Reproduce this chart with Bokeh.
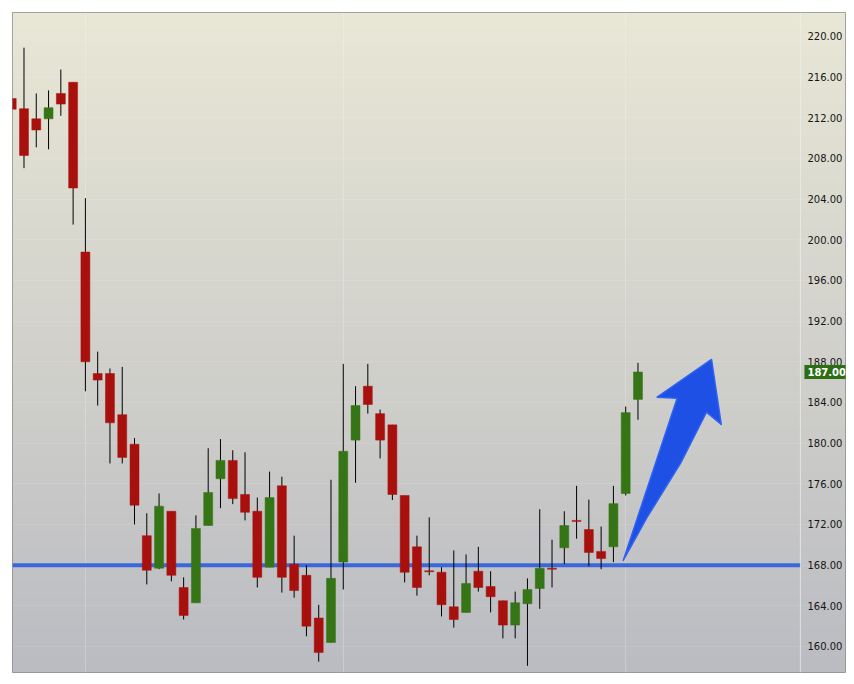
import numpy as np
from bokeh.plotting import figure
from bokeh.models import (ColumnDataSource, Range1d, LinearAxis, SingleIntervalTicker,
                          PrintfTickFormatter, FixedTicker, Grid, Span, Label)
from bokeh.embed import file_html
from bokeh.resources import INLINE

# ---------------- data ----------------
index = list(range(52))
opens = [213.9, 212.9, 211.9, 211.9, 214.4, 215.5, 198.8, 186.85, 186.85, 182.8,
         179.9, 170.9, 167.7, 173.3, 165.8, 164.3, 171.9, 176.5, 178.3, 174.95,
         173.3, 167.8, 175.8, 168.1, 167.0, 162.8, 160.4, 168.3, 180.3, 185.6,
         182.9, 181.8, 174.85, 169.8, 167.45, 167.3, 163.9, 163.35, 167.4, 165.9,
         164.5, 162.1, 164.2, 165.7, 167.7, 169.7, 172.4, 171.5, 169.35, 169.8,
         175.05, 184.3]
highs = [213.9, 218.9, 214.4, 214.7, 216.75, 215.5, 204.1, 189.0, 187.35, 187.5,
         180.5, 173.1, 175.05, 173.3, 166.8, 172.9, 179.5, 180.4, 179.3, 179.1,
         174.65, 177.2, 176.7, 170.9, 168.0, 164.1, 176.4, 187.8, 185.6, 187.8,
         183.3, 181.8, 174.85, 170.9, 172.7, 167.8, 169.45, 169.05, 169.8, 167.4,
         164.5, 165.4, 166.7, 173.5, 170.5, 173.3, 175.8, 174.45, 171.8, 175.8,
         183.6, 187.9]
lows = [212.85, 207.05, 209.1, 208.9, 212.2, 201.5, 185.1, 183.7, 178.0, 178.0,
        172.0, 166.1, 167.6, 166.4, 162.65, 164.3, 171.9, 173.6, 174.0, 172.4,
        165.8, 167.8, 165.3, 164.8, 161.0, 158.5, 160.4, 165.6, 176.1, 182.9,
        178.5, 174.4, 166.3, 165.0, 167.0, 162.95, 161.85, 163.35, 165.4, 163.35,
        160.8, 160.8, 158.1, 163.7, 165.8, 168.1, 170.6, 167.9, 167.6, 168.3,
        174.85, 182.3]
closes = [212.85, 208.3, 210.8, 213.0, 213.35, 205.1, 188.0, 186.2, 182.0, 178.6,
          173.9, 167.5, 173.8, 167.0, 163.05, 171.6, 175.15, 178.3, 174.55, 173.2,
          166.8, 174.65, 166.8, 165.5, 162.0, 159.4, 166.7, 179.2, 183.7, 183.8,
          180.3, 174.95, 167.3, 165.8, 167.35, 164.1, 162.65, 166.2, 165.8, 164.9,
          162.1, 164.3, 165.6, 167.7, 167.6, 171.9, 172.3, 169.25, 168.65, 174.05,
          183.0, 187.0]
support_level = 168.0
last_price = 187.0
last_price_text = "187.00"
month_breaks = [6, 27, 50]
# annotation arrow outline (index, price)
arrow_x = [49.80, 54.19, 52.56, 56.99, 57.78, 56.58, 54.46, 51.75]
arrow_y = [168.46, 184.42, 184.52, 188.23, 181.84, 183.05, 178.0, 172.72]

# ---------------- styles ----------------
UP = "#357515"
DOWN = "#a8100e"
X0, X1 = 0.0635, 67.9
Y0, Y1 = 157.44, 222.36
SEP_X = 64.23

colors = [UP if c > o else DOWN for o, c in zip(opens, closes)]
src = ColumnDataSource(dict(x=index, open=opens, high=highs, low=lows, close=closes,
                            top=[max(o, c) for o, c in zip(opens, closes)],
                            bottom=[min(o, c) for o, c in zip(opens, closes)],
                            color=colors))

p = figure(width=846, height=676, output_backend="svg", toolbar_location=None,
           x_range=Range1d(X0, X1), y_range=Range1d(Y0, Y1),
           x_axis_location=None, y_axis_location=None,
           min_border_left=12, min_border_top=12, min_border_bottom=4, min_border_right=1,
           border_fill_color="white", outline_line_color="#8c8c8c", outline_line_width=1)
# remove default grids
p.xgrid.grid_line_color = None
p.ygrid.grid_line_color = None

# background gradient
H = 256
t = np.linspace(0.0, 1.0, H)[:, None]  # 0 = bottom, 1 = top
top_c = np.array([233, 231, 214])
bot_c = np.array([187, 188, 194])
rgb = bot_c[None, :] * (1 - t) + top_c[None, :] * t
img = np.empty((H, 2), dtype=np.uint32)
view = img.view(dtype=np.uint8).reshape((H, 2, 4))
for k in range(3):
    view[:, :, k] = np.repeat(rgb[:, k:k + 1], 2, axis=1).astype(np.uint8)
view[:, :, 3] = 255
p.image_rgba(image=[img], x=X0, y=Y0, dw=X1 - X0, dh=Y1 - Y0, level="image")

# faint grids
p.add_layout(Grid(dimension=1, ticker=SingleIntervalTicker(interval=4),
                  grid_line_color="white", grid_line_alpha=0.1))
p.add_layout(Grid(dimension=0, ticker=FixedTicker(ticks=month_breaks),
                  grid_line_color="white", grid_line_alpha=0.22))
p.add_layout(Span(location=SEP_X, dimension="height", line_color="#eeeeee",
                  line_alpha=0.7, line_width=1))

# support line
p.segment(x0=[X0], x1=[SEP_X], y0=[support_level], y1=[support_level],
          line_color="#3a68dc", line_width=4)

# candles
p.segment(x0="x", x1="x", y0="low", y1="high", source=src, line_color="black", line_width=1)
p.vbar(x="x", width=0.73, top="top", bottom="bottom", source=src,
       fill_color="color", line_color="color", line_width=0.5)

# arrow
p.patch(arrow_x, arrow_y, fill_color="#1e50e6", line_color="#2f62f0",
        line_width=1.5, line_join="round")

# price axis
yaxis = LinearAxis(fixed_location=SEP_X, ticker=SingleIntervalTicker(interval=4),
                   formatter=PrintfTickFormatter(format="%.2f"),
                   axis_line_color=None, major_tick_line_color=None,
                   minor_tick_line_color=None, major_tick_out=0, major_tick_in=0,
                   major_label_standoff=3, major_label_text_font="DejaVu Sans",
                   major_label_text_font_size="10px", major_label_text_color="#151515")
p.add_layout(yaxis, "right")

p.add_layout(Label(x=SEP_X, y=last_price, text=last_price_text, x_offset=4,
                   text_align="left", text_baseline="middle", text_color="white",
                   text_font="DejaVu Sans", text_font_style="bold", text_font_size="10px",
                   background_fill_color="#2e6e13", padding=3))

open("out.html", "w").write(file_html(p, INLINE))
